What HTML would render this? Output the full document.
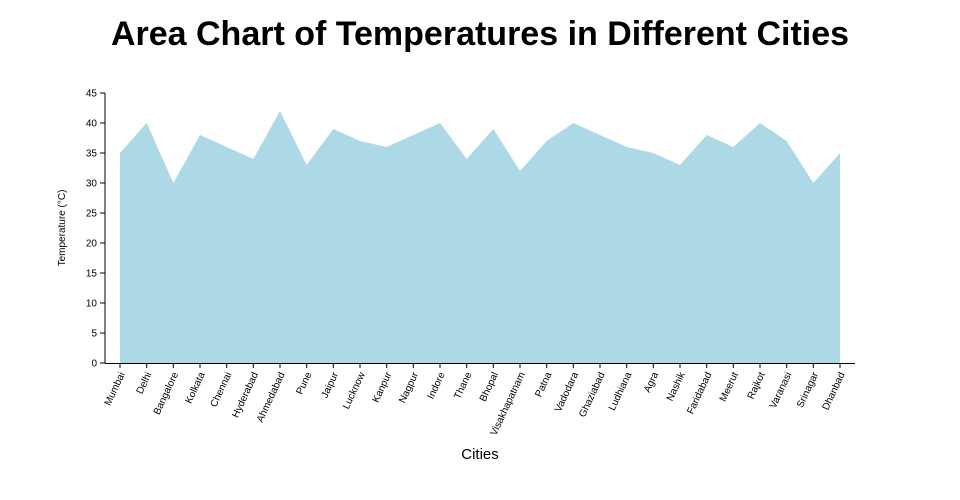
<!DOCTYPE html>
<html><head><meta charset="utf-8"><style>
body{margin:0;background:#fff;}
svg{display:block;font-family:"Liberation Sans",sans-serif;}
</style></head><body>
<svg width="960" height="500" xmlns="http://www.w3.org/2000/svg">
<text x="480" y="45" text-anchor="middle" font-size="34" font-weight="bold" fill="#000">Area Chart of Temperatures in Different Cities</text>
<script>
var cities=["Mumbai","Delhi","Bangalore","Kolkata","Chennai","Hyderabad","Ahmedabad","Pune","Jaipur","Lucknow","Kanpur","Nagpur","Indore","Thane","Bhopal","Visakhapatnam","Patna","Vadodara","Ghaziabad","Ludhiana","Agra","Nashik","Faridabad","Meerut","Rajkot","Varanasi","Srinagar","Dhanbad"];
var vals=[35,40,30,38,36,34,42,33,39,37,36,38,40,34,39,32,37,40,38,36,35,33,38,36,40,37,30,35];
var ns="http://www.w3.org/2000/svg",svg=document.querySelector("svg");
function X(i){return 120+i*(720/27);}function Y(v){return 363-v*6;}
var d="M"+X(0)+",363";
vals.forEach(function(v,i){d+=" L"+X(i)+","+Y(v);});
d+=" L"+X(27)+",363 Z";
var p=document.createElementNS(ns,"path");p.setAttribute("d",d);p.setAttribute("fill","#add8e6");svg.appendChild(p);
function el(t,a,txt){var e=document.createElementNS(ns,t);for(var k in a)e.setAttribute(k,a[k]);if(txt!==undefined)e.textContent=txt;svg.appendChild(e);return e;}
el("line",{x1:105,y1:93,x2:105,y2:363,stroke:"#000","stroke-width":1});
el("line",{x1:105,y1:363.5,x2:855,y2:363.5,stroke:"#000","stroke-width":1});
for(var v=0;v<=45;v+=5){var y=Y(v);el("line",{x1:100,y1:y,x2:105,y2:y,stroke:"#000"});el("text",{x:97,y:y+3.5,"text-anchor":"end","font-size":10},String(v));}
cities.forEach(function(c,i){var x=X(i);el("line",{x1:x,y1:363,x2:x,y2:368,stroke:"#000"});
el("text",{x:0,y:0,"text-anchor":"end","font-size":10,transform:"translate("+(x+5)+",374) rotate(-65)"},c);});
el("text",{x:480,y:459,"text-anchor":"middle","font-size":15},"Cities");
el("text",{x:0,y:0,"text-anchor":"middle","font-size":10,transform:"translate(65,228) rotate(-90)"},"Temperature (°C)");
</script>
</svg>
</body></html>
